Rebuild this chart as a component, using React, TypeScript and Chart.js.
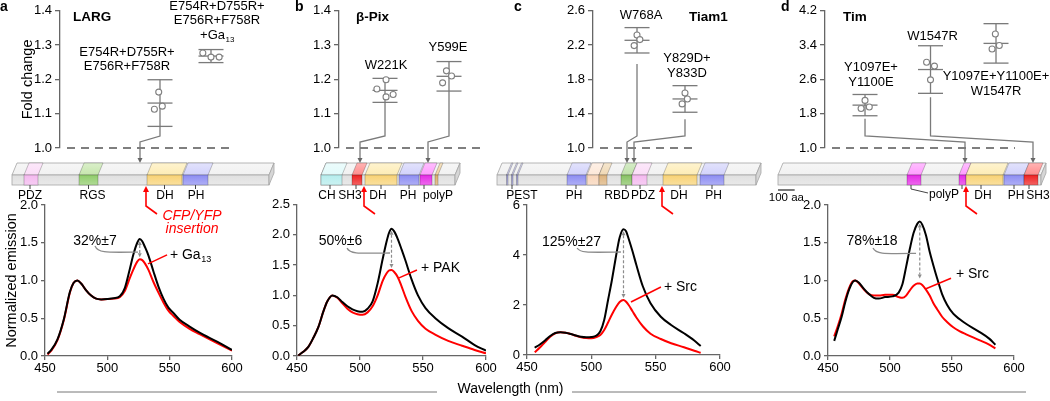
import React, { useEffect, useRef } from "react";
import { Chart, registerables } from "chart.js";
Chart.register(...registerables);

const PAGE_W = 1050;
const PAGE_H = 401;
const FONT = "'Liberation Sans', Arial, Helvetica, sans-serif";
const AA_PER_PX = 6;
Chart.defaults.font.family = FONT;
Chart.defaults.color = "#000";

// ======================= DATA =======================
// ---- (a) LARG ----
const aGroupLabels = [["E754R+D755R+", "E756R+F758R"], ["E754R+D755R+", "E756R+F758R", "+Ga_13"]];
const aReplicates = [[1.163, 1.113, 1.122], [1.277, 1.265, 1.265]];
const aMeans = [1.131, 1.268];
const aSDs = [0.068, 0.019];
const aFoldTicks = [1.0, 1.1, 1.2, 1.3, 1.4];
const aLength = 1542;
const aDomainTypes = ["PDZ", "RGS", "DH", "PH"];
const aDomainStart = [72, 402, 810, 1026];
const aDomainEnd = [156, 516, 1020, 1176];
const aDomainLabels = ["PDZ", "RGS", "DH", "PH"];
const aLabelAt = [108, 483, 918, 1104];
const aTickAt = [108, 459, 915, 1101];
const aInsertion = 804;
const aTargets = [768, null];
const aWavelength = [452, 455, 460, 465, 470, 473, 476, 479, 483, 487, 491, 495, 500, 505, 510, 514, 518, 521, 524, 526, 528, 530, 533, 537, 541, 545, 549, 553, 558, 566, 574, 588, 600];
const aBlack = [0.03, 0.08, 0.22, 0.48, 0.85, 0.97, 1.0, 0.96, 0.87, 0.8, 0.76, 0.75, 0.755, 0.765, 0.79, 0.9, 1.15, 1.35, 1.5, 1.55, 1.52, 1.45, 1.33, 1.12, 0.92, 0.76, 0.64, 0.57, 0.48, 0.39, 0.31, 0.19, 0.08];
const aRed = [0.02, 0.07, 0.21, 0.47, 0.84, 0.97, 1.0, 0.96, 0.87, 0.8, 0.76, 0.75, 0.755, 0.76, 0.78, 0.86, 1.03, 1.15, 1.25, 1.28, 1.27, 1.23, 1.14, 0.98, 0.84, 0.71, 0.6, 0.53, 0.45, 0.36, 0.29, 0.17, 0.07];
const aEmissionTicks = [0, 0.5, 1.0, 1.5, 2.0];

// ---- (b) beta-Pix ----
const bGroupLabels = [["W221K"], ["Y599E"]];
const bReplicates = [[1.199, 1.172, 1.149, 1.156], [1.225, 1.21, 1.19]];
const bMeans = [1.168, 1.209];
const bSDs = [0.035, 0.043];
const bFoldTicks = [1.0, 1.1, 1.2, 1.3, 1.4];
const bLength = 804;
const bDomainTypes = ["CH", "SH3", "DH", "PH", "polyP", "pro"];
const bDomainStart = [0, 186, 264, 468, 594, 684];
const bDomainEnd = [126, 246, 456, 588, 666, 702];
const bDomainLabels = ["CH", "SH3", "DH", "PH", "polyP"];
const bLabelAt = [36, 174, 342, 522, 702];
const bTickAt = [54, 210, 360, 528, 618];
const bInsertion = 258;
const bTargets = [234, 642];
const bWavelength = [451, 455, 459, 463, 467, 471, 474, 478, 482, 486, 490, 494, 498, 502, 506, 510, 514, 518, 521, 523, 525, 527, 530, 533, 536, 541, 546, 552, 560, 570, 581, 591, 600];
const bBlack = [0.01, 0.07, 0.15, 0.3, 0.48, 0.74, 0.9, 1.0, 0.97, 0.89, 0.82, 0.77, 0.74, 0.73, 0.78, 0.9, 1.2, 1.6, 1.88, 2.03, 2.1, 2.06, 1.93, 1.76, 1.58, 1.26, 1.0, 0.79, 0.62, 0.46, 0.32, 0.18, 0.09];
const bRed = [0.01, 0.07, 0.15, 0.3, 0.48, 0.74, 0.9, 1.0, 0.96, 0.87, 0.78, 0.72, 0.69, 0.68, 0.72, 0.82, 1.0, 1.24, 1.36, 1.41, 1.42, 1.39, 1.3, 1.15, 0.98, 0.74, 0.58, 0.45, 0.35, 0.25, 0.17, 0.1, 0.045];
const bEmissionTicks = [0, 0.5, 1.0, 1.5, 2.0, 2.5];

// ---- (c) Tiam1 ----
const cGroupLabels = [["W768A"], ["Y829D+", "Y833D"]];
const cReplicates = [[2.318, 2.264, 2.194], [1.641, 1.572, 1.514]];
const cMeans = [2.256, 1.572];
const cSDs = [0.148, 0.155];
const cFoldTicks = [1.0, 1.4, 1.8, 2.2, 2.6];
const cLength = 1554;
const cDomainTypes = ["PEST", "PEST", "PEST", "PH", "lo", "tan", "RBD", "PDZ", "DH", "PH"];
const cDomainStart = [57, 87, 117, 420, 540, 612, 744, 810, 996, 1218];
const cDomainEnd = [66, 96, 126, 534, 612, 660, 810, 900, 1200, 1362];
const cDomainLabels = ["PEST", "PH", "RBD", "PDZ", "DH", "PH"];
const cLabelAt = [150, 462, 720, 876, 1092, 1299];
const cTickAt = [90, 474, 774, 858, 1098, 1290];
const cInsertion = 990;
const cTargets = [780, 822];
const cWavelength = [456, 460, 464, 468, 472, 476, 480, 484, 488, 492, 496, 500, 504, 507, 510, 513, 516, 519, 522, 525, 527, 529, 532, 535, 540, 546, 554, 562, 572, 580, 585];
const cBlack = [0.29, 0.42, 0.58, 0.76, 0.88, 0.91, 0.89, 0.84, 0.78, 0.73, 0.71, 0.72, 0.78, 0.95, 1.4, 2.2, 3.0, 3.9, 4.7, 5.03, 4.95, 4.65, 4.15, 3.6, 2.75, 2.07, 1.53, 1.2, 0.87, 0.58, 0.36];
const cRed = [0.11, 0.3, 0.52, 0.73, 0.87, 0.91, 0.89, 0.84, 0.77, 0.71, 0.68, 0.67, 0.72, 0.8, 1.0, 1.3, 1.62, 1.9, 2.12, 2.2, 2.13, 2.0, 1.75, 1.5, 1.15, 0.85, 0.64, 0.47, 0.31, 0.17, 0.09];
const cEmissionTicks = [0, 2, 4, 6];

// ---- (d) Tim ----
const dGroupLabels = [["Y1097E+", "Y1100E"], ["W1547R"], ["Y1097E+Y1100E+", "W1547R"]];
const dReplicates = [[2.11, 1.92, 1.958], [3.0, 2.91, 2.59], [3.66, 3.39, 3.31]];
const dMeans = [2.0, 2.83, 3.44];
const dSDs = [0.248, 0.555, 0.46];
const dFoldTicks = [1.0, 1.8, 2.6, 3.4, 4.2];
const dLength = 1578;
const dDomainTypes = ["polyP", "polyP", "DH", "PH", "SH3"];
const dDomainStart = [774, 1086, 1128, 1356, 1476];
const dDomainEnd = [858, 1128, 1350, 1476, 1560];
const dDomainLabels = ["polyP", "DH", "PH", "SH3"];
const dLabelAt = [906, 1230, 1428, 1560];
const dTickAt = [798, 1218, 1416, 1506];
const dInsertion = 1128;
const dTargets = [1122, 1530, null];
const dWavelength = [455, 458, 461, 464, 467, 470, 472, 475, 479, 483, 487, 491, 496, 502, 507, 510, 513, 516, 519, 522, 524, 526, 529, 532, 535, 538, 542, 546, 551, 556, 561, 572, 580, 585];
const dBlack = [0.2, 0.36, 0.52, 0.72, 0.88, 0.98, 1.0, 0.97, 0.89, 0.82, 0.77, 0.76, 0.78, 0.79, 0.84, 0.95, 1.18, 1.42, 1.63, 1.75, 1.78, 1.74, 1.6, 1.38, 1.2, 1.03, 0.82, 0.68, 0.56, 0.49, 0.43, 0.32, 0.23, 0.15];
const dRed = [0.26, 0.4, 0.56, 0.75, 0.9, 0.99, 1.0, 0.96, 0.88, 0.82, 0.8, 0.8, 0.81, 0.81, 0.78, 0.77, 0.8, 0.87, 0.93, 0.96, 0.96, 0.94, 0.88, 0.8, 0.7, 0.62, 0.52, 0.45, 0.38, 0.33, 0.29, 0.21, 0.15, 0.1];
const dEmissionTicks = [0, 0.5, 1.0, 1.5, 2.0];

const wavelengthTicks = [450, 500, 550, 600];

// ======================= LAYOUT / STYLE =======================
const GRAY = "#7a7a7a";
const AXIS = "#666";
const DOM_T = 163, DOM_M = 175, DOM_B = 185, SLANT = 5;
const DOM_FONT = 12;

const DOMAIN_COLORS: Record<string, [string, string]> = {
  bar: ["#f1f1f1", "#e0e0e0"],
  PDZ: ["#fbdcf7", "#f4b8ef"],
  RGS: ["#c6e6ad", "#8fcc6a"],
  DH: ["#fdecb5", "#f8d274"],
  PH: ["#d2d2fb", "#8c8cf2"],
  CH: ["#e2fafa", "#b5eded"],
  SH3: ["#ff8c8c", "#ee2020"],
  polyP: ["#ff9cff", "#e52ae5"],
  pro: ["#f0d2a0", "#dcae6a"],
  PEST: ["#c8c8ea", "#9c9cd6"],
  lo: ["#fde8d8", "#f8d4b8"],
  tan: ["#f0d8b4", "#dcb27c"],
  RBD: ["#c0e2aa", "#86c262"],
};

const PANELS: any[] = [
  {
    letter: "a", letterX: 0, protein: "LARG", proteinX: 73,
    labels: aGroupLabels, reps: aReplicates, means: aMeans, sds: aSDs, foldTicks: aFoldTicks,
    barLen: aLength, domTypes: aDomainTypes, domStart: aDomainStart, domEnd: aDomainEnd,
    lblText: aDomainLabels, lblAt: aLabelAt, lblTick: aTickAt, leaderIdx: -1,
    insertion: aInsertion, targets: aTargets,
    wl: aWavelength, black: aBlack, red: aRed, eTicks: aEmissionTicks, eDec: 1,
    pct: "32%±7", partner: "+ Ga_13",
    top: { left: 60, right: 232, axisW: 41, xMin: -1.961, xMax: 1.412, barStart: 12 },
    jitter: [[-0.025, -0.11, 0.045], [-0.16, 0, 0.16]],
    labelDx: [-33, 6], labelGap: [13, 14], labelPos: ["above", "above"], connGap: [0, 0],
    spec: { left: 45, right: 232, top: 205, bottom: 356, axisW: 42 },
    ann: { pct: [490.1, 1.523], curve: [490.1, 1.457, 524.6, 1.377], partner: [550.2, 1.34], red: [532.6, 1.22, 547.9, 1.34] },
    foldTitle: true, emTitle: true, cfp: true, wavelength: true,
  },
  {
    letter: "b", letterX: 295, protein: "β-Pix", proteinX: 356,
    labels: bGroupLabels, reps: bReplicates, means: bMeans, sds: bSDs, foldTicks: bFoldTicks,
    barLen: bLength, domTypes: bDomainTypes, domStart: bDomainStart, domEnd: bDomainEnd,
    lblText: bDomainLabels, lblAt: bLabelAt, lblTick: bTickAt, leaderIdx: -1,
    insertion: bInsertion, targets: bTargets,
    wl: bWavelength, black: bBlack, red: bRed, eTicks: bEmissionTicks, eDec: 1,
    pct: "50%±6", partner: "+ PAK",
    top: { left: 339, right: 484, axisW: 40, xMin: -0.719, xMax: 1.547, barStart: 321 },
    jitter: [[0.016, -0.127, 0.016, 0.127], [-0.04, 0.04, -0.1]],
    labelDx: [1, -1], labelGap: [12.7, 14], labelPos: ["above", "above"], connGap: [0, 0],
    spec: { left: 297, right: 486, top: 204.5, bottom: 356, axisW: 40 },
    ann: { pct: [484.5, 1.9], curve: [489.7, 1.78, 523.8, 1.7], partner: [548.4, 1.45], red: [531, 1.29, 545.2, 1.42] },
  },
  {
    letter: "c", letterX: 514, protein: "Tiam1", proteinX: 689,
    labels: cGroupLabels, reps: cReplicates, means: cMeans, sds: cSDs, foldTicks: cFoldTicks,
    barLen: cLength, domTypes: cDomainTypes, domStart: cDomainStart, domEnd: cDomainEnd,
    lblText: cDomainLabels, lblAt: cLabelAt, lblTick: cTickAt, leaderIdx: -1,
    insertion: cInsertion, targets: cTargets,
    wl: cWavelength, black: cBlack, red: cRed, eTicks: cEmissionTicks, eDec: 0,
    pct: "125%±27", partner: "+ Src",
    top: { left: 593, right: 698, axisW: 40, xMin: -0.917, xMax: 1.271, barStart: 497 },
    jitter: [[0, 0.06, -0.06], [0, 0.05, -0.06]],
    labelDx: [4, 2], labelGap: [11.7, 12], labelPos: ["above", "above"], connGap: [11, 7],
    spec: { left: 527, right: 720, top: 205, bottom: 355, axisW: 40 },
    ann: { pct: [484.6, 4.52], curve: [488.9, 4.28, 523, 4.12], partner: [556.4, 2.72], red: [530.8, 2.12, 554.1, 2.72] },
  },
  {
    letter: "d", letterX: 781, protein: "Tim", proteinX: 843,
    labels: dGroupLabels, reps: dReplicates, means: dMeans, sds: dSDs, foldTicks: dFoldTicks,
    barLen: dLength, domTypes: dDomainTypes, domStart: dDomainStart, domEnd: dDomainEnd,
    lblText: dDomainLabels, lblAt: dLabelAt, lblTick: dTickAt, leaderIdx: 0, extraTicks: [1104],
    insertion: dInsertion, targets: dTargets,
    wl: dWavelength, black: dBlack, red: dRed, eTicks: dEmissionTicks, eDec: 1,
    pct: "78%±18", partner: "+ Src",
    top: { left: 825, right: 1015, axisW: 40, xMin: -0.611, xMax: 2.29, barStart: 778 },
    jitter: [[0, -0.06, 0.065], [-0.06, 0.06, 0], [-0.01, 0.05, -0.06]],
    labelDx: [6, 2, 0], labelGap: [12.3, 9, 13.7], labelPos: ["above", "above", "below"], connGap: [3, 4, 0],
    spec: { left: 828, right: 1014, top: 205, bottom: 356, axisW: 40 },
    ann: { pct: [485.5, 1.52], curve: [486.3, 1.43, 521, 1.36], partner: [553.2, 1.09], red: [529, 0.89, 549.2, 1.03] },
    scaleBar: true,
  },
];

// ======================= HELPERS =======================
function hexToRgb(h: string) {
  const v = parseInt(h.slice(1), 16);
  return [(v >> 16) & 255, (v >> 8) & 255, v & 255];
}
function mix(a: string, b: string, t: number) {
  const pa = hexToRgb(a), pb = hexToRgb(b);
  const c = pa.map((x, i) => Math.round(x + (pb[i] - x) * t));
  return `rgb(${c[0]},${c[1]},${c[2]})`;
}
function seg(ctx: CanvasRenderingContext2D, x1: number, y1: number, x2: number, y2: number) {
  ctx.beginPath(); ctx.moveTo(x1, y1); ctx.lineTo(x2, y2); ctx.stroke();
}
function drawRich(ctx: CanvasRenderingContext2D, text: string, x: number, y: number, size: number, align: string, color: string, style = "") {
  const parts = text.split("_");
  const main = parts[0], sub = parts[1];
  const subSize = Math.round(size * 0.65);
  ctx.font = `${style} ${size}px ${FONT}`;
  const mw = ctx.measureText(main).width;
  let sw = 0;
  if (sub) { ctx.font = `${style} ${subSize}px ${FONT}`; sw = ctx.measureText(sub).width; }
  const x0 = align === "center" ? x - (mw + sw) / 2 : x;
  ctx.fillStyle = color; ctx.textAlign = "left"; ctx.textBaseline = "middle";
  ctx.font = `${style} ${size}px ${FONT}`;
  ctx.fillText(main, x0, y);
  if (sub) { ctx.font = `${style} ${subSize}px ${FONT}`; ctx.fillText(sub, x0 + mw + 0.5, y + size * 0.32); }
}
function arrowHead(ctx: CanvasRenderingContext2D, x: number, y: number, dir: number, w: number, h: number) {
  ctx.beginPath(); ctx.moveTo(x, y); ctx.lineTo(x - w / 2, y - dir * h); ctx.lineTo(x + w / 2, y - dir * h); ctx.closePath(); ctx.fill();
}
function drawPrism(ctx: CanvasRenderingContext2D, x0: number, x1: number, colors: [string, string], endFace: boolean, stroke: string) {
  const [cTop, cFront] = colors;
  ctx.strokeStyle = stroke; ctx.lineWidth = 0.8;
  let g = ctx.createLinearGradient(0, DOM_T, 0, DOM_M);
  g.addColorStop(0, mix(cTop, "#ffffff", 0.35)); g.addColorStop(1, cTop);
  ctx.fillStyle = g;
  ctx.beginPath(); ctx.moveTo(x0 + SLANT, DOM_T); ctx.lineTo(x1 + SLANT, DOM_T); ctx.lineTo(x1, DOM_M); ctx.lineTo(x0, DOM_M); ctx.closePath();
  ctx.fill(); ctx.stroke();
  g = ctx.createLinearGradient(0, DOM_M, 0, DOM_B);
  g.addColorStop(0, cFront); g.addColorStop(1, mix(cFront, "#ffffff", 0.3));
  ctx.fillStyle = g;
  ctx.fillRect(x0, DOM_M, x1 - x0, DOM_B - DOM_M);
  ctx.strokeRect(x0, DOM_M, x1 - x0, DOM_B - DOM_M);
  if (endFace) {
    ctx.fillStyle = "#d6d6d6";
    ctx.beginPath(); ctx.moveTo(x1, DOM_M); ctx.lineTo(x1 + SLANT, DOM_T); ctx.lineTo(x1 + SLANT, DOM_T + (DOM_B - DOM_M)); ctx.lineTo(x1, DOM_B); ctx.closePath();
    ctx.fill(); ctx.stroke();
  }
}

// ======================= TOP (fold change + domains) =======================
function topPlugin(p: any) {
  return {
    id: "top" + p.letter,
    beforeDatasetsDraw(chart: any) {
      const { ctx, chartArea } = chart;
      const xs = chart.scales.x, ys = chart.scales.y, aa = chart.scales.aa;
      ctx.save();
      const y1 = ys.getPixelForValue(p.foldTicks[0]);
      ctx.strokeStyle = "#555"; ctx.lineWidth = 1.3; ctx.setLineDash([8, 6]);
      seg(ctx, chartArea.left + 7, y1, chartArea.right, y1);
      ctx.setLineDash([]);
      ctx.strokeStyle = GRAY; ctx.lineWidth = 1.3;
      p.means.forEach((m: number, gi: number) => {
        const gx = xs.getPixelForValue(gi);
        const yh = ys.getPixelForValue(m + p.sds[gi]);
        const yl = ys.getPixelForValue(m - p.sds[gi]);
        const ym = ys.getPixelForValue(m);
        seg(ctx, gx, yh, gx, yl);
        [yh, ym, yl].forEach((yy) => seg(ctx, gx - 12.5, yy, gx + 12.5, yy));
        const t = p.targets[gi];
        if (t !== null && t !== undefined) {
          const tx = aa.getPixelForValue(t);
          ctx.beginPath();
          ctx.moveTo(gx, yl + p.connGap[gi]);
          ctx.lineTo(gx, 136);
          ctx.lineTo(tx, 142);
          ctx.lineTo(tx, DOM_T - 4);
          ctx.stroke();
          ctx.fillStyle = "#666";
          arrowHead(ctx, tx, DOM_T, 1, 5, 5);
        }
      });
      ctx.restore();
    },
    afterDraw(chart: any) {
      const { ctx } = chart;
      const xs = chart.scales.x, ys = chart.scales.y, aa = chart.scales.aa;
      ctx.save();
      // group labels
      p.labels.forEach((lines: string[], gi: number) => {
        const gx = xs.getPixelForValue(gi) + p.labelDx[gi];
        const m = p.means[gi], s = p.sds[gi];
        const LS = 14.8;
        if (p.labelPos[gi] === "above") {
          const yBase = ys.getPixelForValue(m + s) - p.labelGap[gi];
          lines.forEach((ln, k) => drawRich(ctx, ln, gx, yBase - (lines.length - 1 - k) * LS, 13, "center", "#000"));
        } else {
          const yBase = ys.getPixelForValue(m - s) + p.labelGap[gi];
          lines.forEach((ln, k) => drawRich(ctx, ln, gx, yBase + k * LS, 13, "center", "#000"));
        }
      });
      // panel letter + protein
      drawRich(ctx, p.letter, p.letterX, 7, 14, "left", "#000", "bold");
      drawRich(ctx, p.protein, p.proteinX, 17, 13.5, "left", "#000", "bold");
      // domain diagram
      const px = (v: number) => aa.getPixelForValue(v);
      drawPrism(ctx, px(0), px(p.barLen), DOMAIN_COLORS.bar, true, "#a5a5a5");
      p.domTypes.forEach((t: string, i: number) => {
        drawPrism(ctx, px(p.domStart[i]), px(p.domEnd[i]), DOMAIN_COLORS[t], false, "rgba(0,0,0,0.28)");
      });
      // labels under domains
      ctx.strokeStyle = "#444"; ctx.lineWidth = 1;
      p.lblText.forEach((txt: string, i: number) => {
        const tx = px(p.lblTick[i]);
        if (i === p.leaderIdx) {
          const lx = px(p.lblAt[i]);
          ctx.beginPath(); ctx.moveTo(tx, DOM_B); ctx.lineTo(tx, 189); ctx.lineTo(lx - 1, 193); ctx.stroke();
          drawRich(ctx, txt, lx, 195, DOM_FONT, "left", "#000");
        } else {
          seg(ctx, tx, DOM_B, tx, DOM_B + 4);
          drawRich(ctx, txt, px(p.lblAt[i]), 196, DOM_FONT, "center", "#000");
        }
      });
      (p.extraTicks || []).forEach((v: number) => seg(ctx, px(v), DOM_B, px(v), DOM_B + 4));
      // insertion arrow
      const ix = px(p.insertion);
      ctx.strokeStyle = "#ff0000"; ctx.fillStyle = "#ff0000"; ctx.lineWidth = 1.6;
      ctx.beginPath(); ctx.moveTo(ix, 191); ctx.lineTo(ix, 206); ctx.lineTo(ix + 11, 214); ctx.stroke();
      arrowHead(ctx, ix, 186, -1, 6, 6);
      if (p.cfp) {
        drawRich(ctx, "CFP/YFP", px(1080), 216, 14, "center", "#ff0000", "italic");
        drawRich(ctx, "insertion", px(1080), 229, 14, "center", "#ff0000", "italic");
      }
      if (p.scaleBar) {
        ctx.strokeStyle = "#222"; ctx.lineWidth = 1.2;
        seg(ctx, px(0), 190, px(100), 190);
        drawRich(ctx, "100 aa", (px(0) + px(100)) / 2, 198, 11.5, "center", "#000");
      }
      ctx.restore();
    },
  };
}

function buildTop(canvas: HTMLCanvasElement, p: any) {
  const T = p.top;
  const aaMin = (T.left - T.barStart) * AA_PER_PX;
  const aaMax = (T.right - T.barStart) * AA_PER_PX;
  const ft = p.foldTicks;
  const points: any[] = [];
  p.reps.forEach((vals: number[], gi: number) => vals.forEach((v, j) => points.push({ x: gi + p.jitter[gi][j], y: v })));
  return new Chart(canvas, {
    type: "scatter",
    data: {
      datasets: [{
        data: points,
        pointRadius: 3, pointBorderColor: "#808080", pointBackgroundColor: "#fff", pointBorderWidth: 1.1,
      }],
    },
    options: {
      animation: false, responsive: false, devicePixelRatio: 1, events: [],
      layout: { padding: { left: T.left - T.axisW, right: PAGE_W - T.right, top: 10, bottom: PAGE_H - 148 } },
      plugins: { legend: { display: false }, tooltip: { enabled: false } },
      scales: {
        x: { type: "linear", display: false, min: T.xMin, max: T.xMax, bounds: "data" },
        aa: { type: "linear", axis: "x", position: "bottom", display: false, min: aaMin, max: aaMax, bounds: "data" },
        y: {
          type: "linear", min: ft[0], max: ft[ft.length - 1], bounds: "data",
          afterFit: (s: any) => { s.width = T.axisW; },
          afterBuildTicks: (s: any) => { s.ticks = ft.map((v: number) => ({ value: v })); },
          ticks: { callback: (v: any) => Number(v).toFixed(1), font: { size: 13, family: FONT }, color: "#000", padding: 3 },
          grid: { drawOnChartArea: false, drawTicks: true, tickLength: 5, color: AXIS, lineWidth: 1.3 },
          border: { display: true, color: AXIS, width: 1.3 },
          title: p.foldTitle ? { display: true, text: "Fold change", font: { size: 14.5, family: FONT }, color: "#000", padding: 0 } : { display: false },
        },
      },
    } as any,
    plugins: [topPlugin(p)],
  });
}

// ======================= BOTTOM (spectra) =======================
function specPlugin(p: any) {
  return {
    id: "spec" + p.letter,
    afterDraw(chart: any) {
      const { ctx } = chart;
      const xs = chart.scales.x, ys = chart.scales.y;
      const X = (v: number) => xs.getPixelForValue(v), Y = (v: number) => ys.getPixelForValue(v);
      const A = p.ann;
      ctx.save();
      drawRich(ctx, p.pct, X(A.pct[0]), Y(A.pct[1]), 14, "center", "#000");
      // gray curved leader
      ctx.strokeStyle = "#8c8c8c"; ctx.lineWidth = 1.3;
      const cx1 = X(A.curve[0]), cy1 = Y(A.curve[1]), cx2 = X(A.curve[2]), cy2 = Y(A.curve[3]);
      ctx.beginPath(); ctx.moveTo(cx1, cy1);
      ctx.bezierCurveTo(cx1 + 3, cy2 + 1, cx1 + 10, cy2 + 0.5, cx2, cy2); ctx.stroke();
      // dashed double arrow between peaks
      let iMax = 0; p.black.forEach((v: number, i: number) => { if (v > p.black[iMax]) iMax = i; });
      const redMax = Math.max(...p.red);
      const ax = X(p.wl[iMax]);
      const yT = Y(p.black[iMax]) + 2, yB = Y(redMax) - 2;
      ctx.strokeStyle = "#8c8c8c"; ctx.fillStyle = "#8c8c8c"; ctx.lineWidth = 1.2;
      ctx.setLineDash([3, 2]); seg(ctx, ax, yT + 4, ax, yB - 4); ctx.setLineDash([]);
      arrowHead(ctx, ax, yT, -1, 4, 4);
      arrowHead(ctx, ax, yB, 1, 4, 4);
      // partner text + red leader
      drawRich(ctx, p.partner, X(A.partner[0]), Y(A.partner[1]), 14, "left", "#000");
      ctx.strokeStyle = "#ff0000"; ctx.lineWidth = 1.5;
      seg(ctx, X(A.red[0]), Y(A.red[1]), X(A.red[2]), Y(A.red[3]));
      if (p.wavelength) {
        ctx.strokeStyle = "#777"; ctx.lineWidth = 1;
        seg(ctx, 57, 392, 437, 392);
        seg(ctx, 572, 392, 1026, 392);
        drawRich(ctx, "Wavelength (nm)", 510.5, 389, 14, "center", "#000");
      }
      ctx.restore();
    },
  };
}

function buildSpec(canvas: HTMLCanvasElement, p: any) {
  const S = p.spec;
  const et = p.eTicks;
  return new Chart(canvas, {
    type: "line",
    data: {
      datasets: [
        { data: p.wl.map((w: number, i: number) => ({ x: w, y: p.black[i] })), borderColor: "#000", borderWidth: 2, pointRadius: 0, cubicInterpolationMode: "monotone", fill: false },
        { data: p.wl.map((w: number, i: number) => ({ x: w, y: p.red[i] })), borderColor: "#ff0000", borderWidth: 2, pointRadius: 0, cubicInterpolationMode: "monotone", fill: false },
      ],
    },
    options: {
      animation: false, responsive: false, devicePixelRatio: 1, events: [],
      layout: { padding: { left: S.left - S.axisW, right: PAGE_W - S.right, top: S.top, bottom: PAGE_H - S.bottom - 22 } },
      plugins: { legend: { display: false }, tooltip: { enabled: false } },
      scales: {
        x: {
          type: "linear", min: wavelengthTicks[0], max: wavelengthTicks[wavelengthTicks.length - 1], bounds: "data",
          afterFit: (s: any) => { s.height = 22; },
          afterBuildTicks: (s: any) => { s.ticks = wavelengthTicks.map((v) => ({ value: v })); },
          ticks: { callback: (v: any) => String(v), font: { size: 13, family: FONT }, color: "#000", padding: 1, maxRotation: 0 },
          grid: { drawOnChartArea: false, drawTicks: true, tickLength: 4, color: AXIS, lineWidth: 1.3 },
          border: { display: true, color: AXIS, width: 1.3 },
        },
        y: {
          type: "linear", min: et[0], max: et[et.length - 1], bounds: "data",
          afterFit: (s: any) => { s.width = S.axisW; },
          afterBuildTicks: (s: any) => { s.ticks = et.map((v: number) => ({ value: v })); },
          ticks: { callback: (v: any) => Number(v).toFixed(p.eDec), font: { size: 13, family: FONT }, color: "#000", padding: 3 },
          grid: { drawOnChartArea: false, drawTicks: true, tickLength: 4, color: AXIS, lineWidth: 1.3 },
          border: { display: true, color: AXIS, width: 1.3 },
          title: p.emTitle ? { display: true, text: "Normalized emission", font: { size: 14.5, family: FONT }, color: "#000", padding: 0 } : { display: false },
        },
      },
    } as any,
    plugins: [specPlugin(p)],
  });
}

// ======================= COMPONENT =======================
export default function App() {
  const refs = useRef<(HTMLCanvasElement | null)[]>([]);
  useEffect(() => {
    document.body.style.margin = "0";
    const charts: Chart[] = [];
    PANELS.forEach((p, i) => {
      const c1 = refs.current[i * 2], c2 = refs.current[i * 2 + 1];
      if (c1) charts.push(buildTop(c1, p));
      if (c2) charts.push(buildSpec(c2, p));
    });
    return () => charts.forEach((c) => c.destroy());
  }, []);
  return (
    <div style={{ position: "relative", width: PAGE_W, height: PAGE_H, overflow: "hidden", background: "#fff" }}>
      {Array.from({ length: 8 }).map((_, i) => (
        <canvas
          key={i}
          ref={(el) => { refs.current[i] = el; }}
          width={PAGE_W}
          height={PAGE_H}
          style={{ position: "absolute", left: 0, top: 0, width: PAGE_W, height: PAGE_H }}
        />
      ))}
    </div>
  );
}
